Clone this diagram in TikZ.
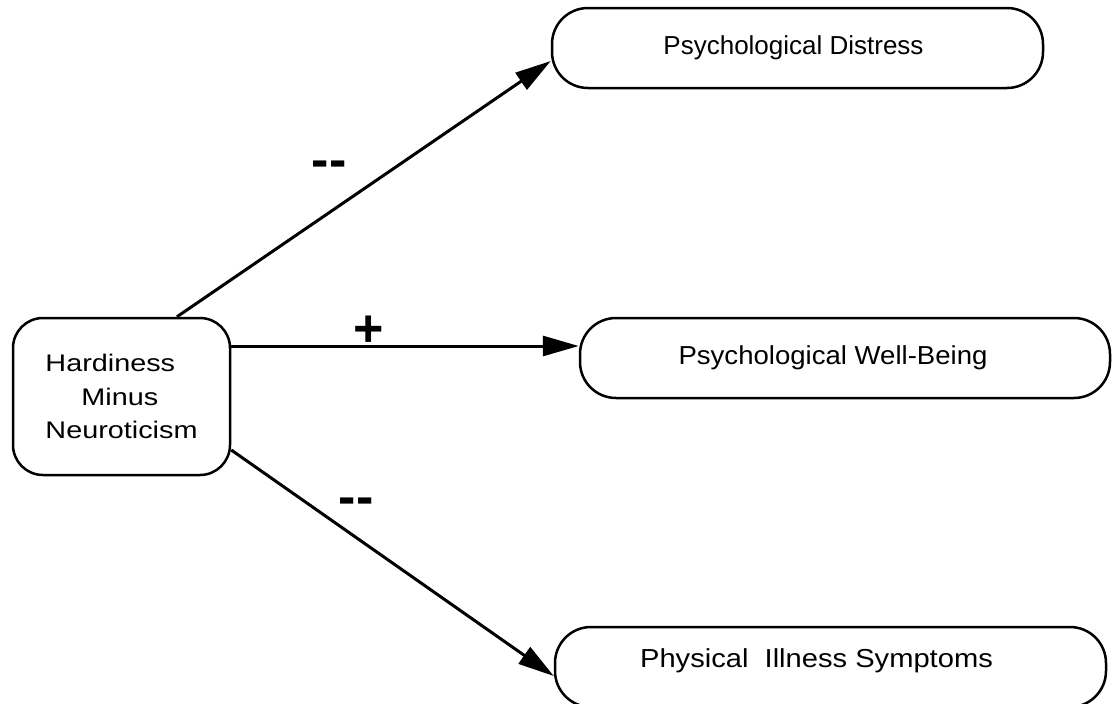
\documentclass[tikz,border=0pt]{standalone}
\usepackage{fontspec}
\setmainfont{Liberation Sans}
\newfontfamily\stretchA[FakeStretch=1.06]{Liberation Sans}
\newfontfamily\stretchB[FakeStretch=1.12]{Liberation Sans}
\newfontfamily\stretchH[FakeStretch=1.2]{Liberation Sans}
\usetikzlibrary{arrows.meta}
\begin{document}
\begin{tikzpicture}[x=1pt,y=-1pt,
  oval/.style={draw, line width=2.5pt, rounded corners=36pt, minimum width=#1, minimum height=80pt,
    inner sep=0pt, font=\fontsize{26}{30}\selectfont},
  causebox/.style={draw, line width=2.5pt, rounded corners=30pt, minimum width=217pt, minimum height=157pt,
    inner sep=0pt, align=left, font=\stretchH\fontsize{24}{33.5}\selectfont},
  link/.style={line width=3pt, -{Triangle[length=36pt,width=20pt]}},
  sign/.style={anchor=base, inner sep=0pt, font=\fontsize{52}{52}\selectfont\bfseries}]
\useasboundingbox (0,0) rectangle (1112,704);
% predictor
\node[causebox] (hm) at (121.5,396.5) {Hardiness\\ \hspace*{36pt}Minus\\ Neuroticism};
% outcomes
\node[oval=491pt] (pd) at (797.5,48) {Psychological Distress\hspace*{8pt}};
\node[oval=530pt] (pwb) at (845,358) {\stretchA Psychological Well-Being\hspace*{24pt}};
\node[oval=551pt] (pis) at (830.5,667) {\stretchB\raisebox{18pt}{Physical\ \ Illness Symptoms}\hspace*{28pt}};
% paths
\draw[link] ([xshift=55.5pt]hm.north) -- ([yshift=-13pt]pd.west);
\draw[link] ([yshift=50.5pt]hm.east) -- ([yshift=12pt]pwb.west);
\draw[link] ([yshift=-53.5pt]hm.east) -- ([yshift=-9pt]pis.west);
% signs of the effects
\node[sign] (s1) at (329,177.5) {-{}-};
\node[sign] (s2) at (369,346) {+};
\node[sign] (s3) at (356,514) {-{}-};
\end{tikzpicture}
\end{document}
